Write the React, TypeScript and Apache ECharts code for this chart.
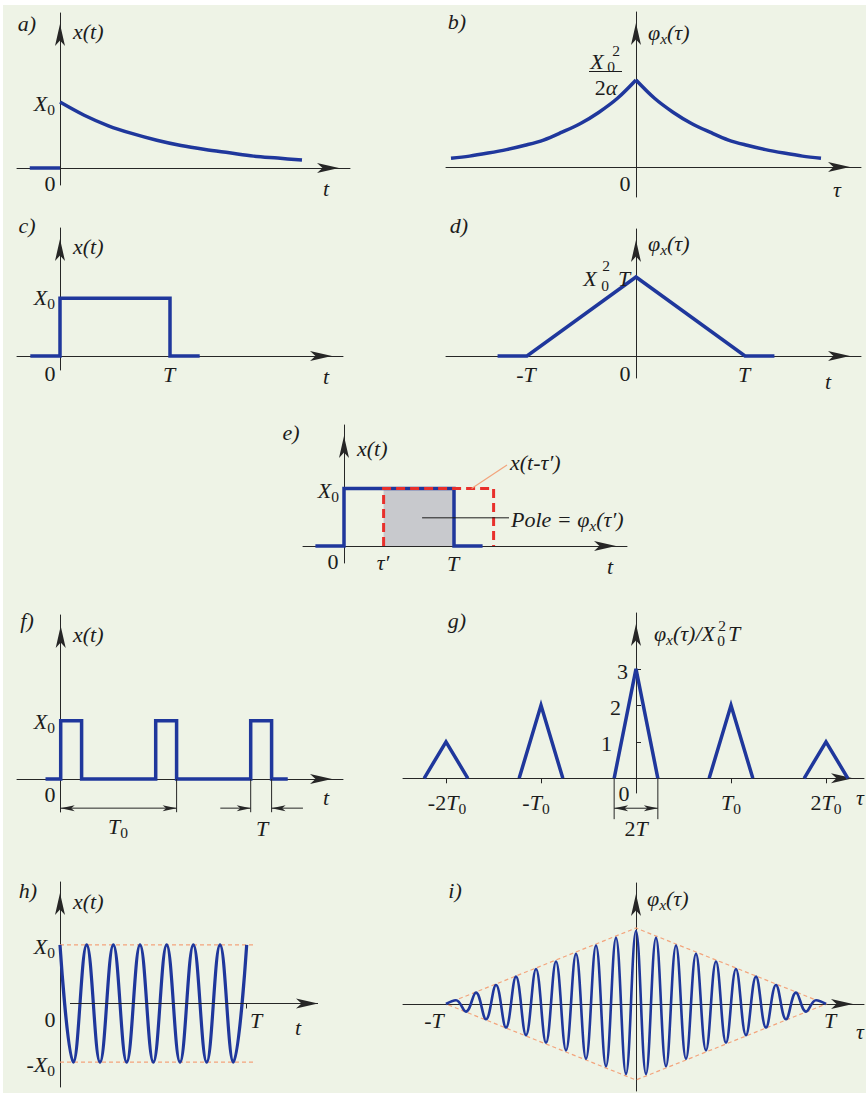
import React, { useEffect, useRef } from "react";
import * as echarts from "echarts";

const W = 866;
const H = 1093;
const BG = "#eef3e6";
const INK = "#1c1c1c";
const AXIS = "#262626";
const BLUE = "#1f379c";
const RED = "#e8302c";
const PEACH = "#f3a47c";
const GRAY = "#c8c9cd";
const SERIF = "Liberation Serif";
const FS = 22;
const FS_SMALL = 15.5;

// a) decaying exponential x(t) = X0·e^(-αt), X0 = 1
const aT = [0, 1, 2, 3, 4, 5, 6, 7, 8, 9, 10];
const aX = [1.0, 0.8, 0.64, 0.52, 0.42, 0.34, 0.28, 0.23, 0.18, 0.15, 0.12];
const aZeroT = [-1.25, 0];
const aZeroX = [0, 0];

// b) autocorrelation of a), one side (even function)
const bTau = [0, 1, 2, 3, 4, 5, 6, 7, 8, 9, 10];
const bPhi = [1.0, 0.79, 0.63, 0.5, 0.4, 0.31, 0.25, 0.2, 0.16, 0.125, 0.1];

// c) single rectangular pulse of width T = 1
const cT = [-0.27, 0, 0, 1, 1, 1.27];
const cX = [0, 0, 1, 1, 0, 0];

// d) its triangular autocorrelation
const dTau = [-1.27, -1, 0, 1, 1.27];
const dPhi = [0, 0, 1, 0, 0];

// e) pulse and its copy shifted by τ'
const eT = [-0.26, 0, 0, 1, 1, 1.26];
const eX = [0, 0, 1, 1, 0, 0];
const eShiftT = [0.36, 0.36, 1.36, 1.36];
const eShiftX = [0, 1, 1, 0];
const eOverlapT = [0.36, 1];
const eOverlapX = [1, 1];
const eShiftLeader = [1.16, 1];
const eAreaLeader = [0.71, 0.49];

// f) periodic pulse train, period T0 = 1, pulse width 0.22
const fT = [-0.16, 0, 0, 0.22, 0.22, 1, 1, 1.22, 1.22, 2, 2, 2.22, 2.22, 2.39];
const fX = [0, 0, 1, 1, 0, 0, 1, 1, 0, 0, 1, 1, 0, 0];
const fDimY = -0.5;
const fExtBottom = -0.57;
const fExtT = [1.22, 2, 2.22];
const fSpanT0 = [0, 1.22];
const fSpanT = [[1.68, 2], [2.55, 2.22]];

// g) autocorrelation of the pulse train (in units of X0²T)
const gCentres = [-2, -1, 0, 1, 2];
const gHeights = [1, 2, 3, 2, 1];
const gHalfBase = 0.23;
const gYTicks = [1, 2, 3];
const gXTicks = [-2, -1, 1, 2];
const gDimY = -0.82;
const gExtBottom = -1.12;

// h) cosine over 7 periods (peaks and troughs)
const hT = [0, 0.5, 1, 1.5, 2, 2.5, 3, 3.5, 4, 4.5, 5, 5.5, 6, 6.5, 7];
const hX = [1, -1, 1, -1, 1, -1, 1, -1, 1, -1, 1, -1, 1, -1, 1];
const hEndT = 7;
const hGuideT = [0, 7.3];
const hAxisFrom = 0.375;

// i) autocorrelation of the cosine burst, right half (even function), τ in periods
const iTau = [0, 0.5, 1, 1.5, 2, 2.5, 3, 3.5, 4, 4.5, 5, 5.5, 6, 6.5, 7, 7.5, 8, 8.5, 9, 9.5];
const iPhi = [0.96, -0.92, 0.87, -0.82, 0.77, -0.72, 0.66, -0.61, 0.56, -0.51, 0.46, -0.41, 0.36, -0.31, 0.25, -0.2, 0.15, -0.1, 0.05, 0];
const iEnvTau = [-9.5, 0, 9.5, 0, -9.5];
const iEnvPhi = [0, 1, 0, -1, 0];

// ---- layout: pixel frame of each panel (axis extents, origin, px per unit)
type Frame = { left: number; right: number; top: number; bottom: number; ox: number; oy: number; sx: number; sy: number };
const FA: Frame = { left: 17, right: 350, top: 13, bottom: 185, ox: 60, oy: 168, sx: 24.2, sy: 66 };
const FB: Frame = { left: 446, right: 861, top: 12, bottom: 197, ox: 636, oy: 167, sx: 18.5, sy: 87 };
const FC: Frame = { left: 17, right: 343, top: 228, bottom: 370, ox: 60, oy: 356, sx: 110, sy: 57.7 };
const FD: Frame = { left: 446, right: 861, top: 229, bottom: 378, ox: 636, oy: 356, sx: 109, sy: 79 };
const FE: Frame = { left: 303, right: 627, top: 425, bottom: 563, ox: 344, oy: 546, sx: 110, sy: 57.5 };
const FF: Frame = { left: 17, right: 343, top: 615, bottom: 812, ox: 60.7, oy: 779, sx: 95, sy: 58.3 };
const FG: Frame = { left: 403, right: 864, top: 613, bottom: 793, ox: 636, oy: 778.3, sx: 95, sy: 36.5 };
const FH: Frame = { left: 60, right: 318, top: 882, bottom: 1087, ox: 60, oy: 1003.5, sx: 26.67, sy: 58.7 };
const FI: Frame = { left: 403, right: 864, top: 883, bottom: 1091, ox: 636, oy: 1004, sx: 20, sy: 76 };
const FRAMES = [FA, FB, FC, FD, FE, FF, FG, FH, FI];

const pairs = (xs: number[], ys: number[]) => xs.map((x, k) => [x, ys[k]]);
const mirrorLeft = (xs: number[], ys: number[]) => xs.map((x, k) => [-x, ys[k]]).reverse();

const ARROW = { symbol: ["none", "arrow"], symbolSize: [7.5, 22], symbolOffset: [0, -11] };

function gridOf(f: Frame) {
  return { left: f.left, top: f.top, width: f.right - f.left, height: f.bottom - f.top, containLabel: false, outerBoundsMode: "none" };
}

function xAxisOf(f: Frame, i: number, ticks?: number[], hideLine = false) {
  return {
    type: "value", gridIndex: i,
    min: (f.left - f.ox) / f.sx, max: (f.right - f.ox) / f.sx,
    axisLine: { show: !hideLine, onZero: true, lineStyle: { color: AXIS, width: 1 }, ...ARROW },
    axisTick: ticks ? { show: true, customValues: ticks, length: 5, lineStyle: { color: AXIS, width: 1 } } : { show: false },
    axisLabel: { show: false }, splitLine: { show: false },
  };
}

function yAxisOf(f: Frame, i: number, ticks?: number[]) {
  return {
    type: "value", gridIndex: i,
    min: (f.oy - f.bottom) / f.sy, max: (f.oy - f.top) / f.sy,
    axisLine: { show: true, onZero: true, lineStyle: { color: AXIS, width: 1 }, ...ARROW },
    axisTick: ticks ? { show: true, inside: true, customValues: ticks, length: 5, lineStyle: { color: AXIS, width: 1 } } : { show: false },
    axisLabel: { show: false }, splitLine: { show: false },
  };
}

function line(i: number, data: number[][], style: any = {}, extra: any = {}) {
  return {
    type: "line", xAxisIndex: i, yAxisIndex: i, data,
    symbol: "none", showSymbol: false, clip: false, silent: true, animation: false,
    lineStyle: { color: BLUE, width: 3.5, join: "miter", cap: "butt", ...style },
    ...extra,
  };
}

// ---- text
const tok = (size: number, italic: boolean, pad?: number[]) => ({
  fontFamily: SERIF, fontSize: size, fontStyle: italic ? "italic" : "normal", fill: INK, ...(pad ? { padding: pad } : {}),
});
const RICH = {
  u: tok(FS, false),
  sub: tok(FS_SMALL, true, [13, 0, 0, 0]),
  subu: tok(FS_SMALL, false, [13, 0, 0, 0]),
};

function label(x: number, y: number, text: string, align: string = "center", size = FS, italic = true) {
  return {
    type: "text", x, y, silent: true, z: 20,
    style: {
      text, align, verticalAlign: "middle", fontFamily: SERIF, fontSize: size,
      fontStyle: italic ? "italic" : "normal", fill: INK, rich: RICH,
      lineHeight: size < 18 ? 11 : size,
    },
  };
}
const up = (x: number, y: number, text: string, align = "center", size = FS) => label(x, y, text, align, size, false);
const seg = (p: number[], q: number[], color = AXIS, w = 1) => ({
  type: "line", silent: true, z: 20, shape: { x1: p[0], y1: p[1], x2: q[0], y2: q[1] }, style: { stroke: color, lineWidth: w },
});
function head(tip: number[], from: number[], len: number, half: number) {
  const dx = tip[0] - from[0];
  const dy = tip[1] - from[1];
  const d = Math.hypot(dx, dy) || 1;
  const ux = dx / d, uy = dy / d, nx = -uy, ny = ux;
  const bx = tip[0] - ux * len, by = tip[1] - uy * len;
  return {
    type: "polygon", silent: true, z: 21,
    shape: { points: [[tip[0], tip[1]], [bx + nx * half, by + ny * half], [tip[0] - ux * len * 0.75, tip[1] - uy * len * 0.75], [bx - nx * half, by - ny * half]] },
    style: { fill: AXIS },
  };
}

const PHI = "φ{sub|x}(τ)";

function buildOption() {
  const series: any[] = [];
  const expo = { smooth: 0.33 };

  series.push(line(0, pairs(aT, aX), {}, expo));
  series.push(line(0, pairs(aZeroT, aZeroX)));
  series.push(line(1, mirrorLeft(bTau, bPhi), {}, expo));
  series.push(line(1, pairs(bTau, bPhi), {}, expo));
  series.push(line(2, pairs(cT, cX)));
  series.push(line(3, pairs(dTau, dPhi)));
  series.push(line(4, pairs(eOverlapT, eOverlapX), { width: 0, color: GRAY }, { areaStyle: { color: GRAY, opacity: 1 }, z: 1 }));
  series.push(line(4, pairs(eT, eX)));
  series.push(line(4, pairs(eShiftT, eShiftX), { color: RED, width: 3, type: [9, 5] }, { z: 3 }));
  series.push(line(5, pairs(fT, fX)));
  gCentres.forEach((c, k) => {
    series.push(line(6, [[c - gHalfBase, 0], [c, gHeights[k]], [c + gHalfBase, 0]]));
  });
  series.push(line(7, pairs(hGuideT, [1, 1]), { color: PEACH, width: 1.2, type: [4, 3] }));
  series.push(line(7, pairs(hGuideT, [-1, -1]), { color: PEACH, width: 1.2, type: [4, 3] }));
  series.push(line(7, pairs(hT, hX), { width: 3.2, join: "round" }, { smooth: 0.4 }));
  series.push(line(8, pairs(iEnvTau, iEnvPhi), { color: PEACH, width: 1.2, type: [4, 3] }));
  series.push(line(8, [...mirrorLeft(iTau, iPhi).slice(0, -1), ...pairs(iTau, iPhi)], { width: 2.6, join: "round" }, { smooth: 0.4 }));

  const xAxes = FRAMES.map((f, i) => xAxisOf(f, i, i === 6 ? gXTicks : i === 7 ? [hEndT] : undefined, i === 7));
  const yAxes = FRAMES.map((f, i) => yAxisOf(f, i, i === 6 ? gYTicks : undefined));

  return {
    animation: false,
    backgroundColor: "#ffffff",
    grid: FRAMES.map(gridOf),
    xAxis: xAxes,
    yAxis: yAxes,
    series,
  };
}

function buildGraphic(toPx: (i: number, x: number, y: number) => number[]) {
  const g: any[] = [
    { type: "rect", silent: true, z: -100, shape: { x: 3, y: 5, width: W - 3, height: H - 5 }, style: { fill: BG } },
  ];

  // f) dimension lines
  const fp = (x: number, y: number) => toPx(5, x, y);
  fExtT.forEach((t) => g.push(seg(fp(t, 0), fp(t, fExtBottom))));
  const t0a = fp(fSpanT0[0], fDimY), t0b = fp(fSpanT0[1], fDimY);
  g.push(seg(t0a, t0b), head(t0a, t0b, 14, 3), head(t0b, t0a, 14, 3));
  fSpanT.forEach(([from, tip]) => {
    const a = fp(from, fDimY), b = fp(tip, fDimY);
    g.push(seg(a, b), head(b, a, 14, 3));
  });

  // g) 2T dimension
  const gp = (x: number, y: number) => toPx(6, x, y);
  [-gHalfBase, gHalfBase].forEach((t) => g.push(seg(gp(t, 0), gp(t, gExtBottom))));
  const ga = gp(-gHalfBase, gDimY), gb = gp(gHalfBase, gDimY);
  g.push(seg(ga, gb), head(ga, gb, 14, 3), head(gb, ga, 14, 3));

  // h) time axis starting just right of the origin
  const ha = toPx(7, hAxisFrom, 0);
  const hb = [FH.right, ha[1]];
  g.push(seg(ha, hb), head(hb, ha, 22, 5));

  // e) leader lines
  const sl = toPx(4, eShiftLeader[0], eShiftLeader[1]);
  const al = toPx(4, eAreaLeader[0], eAreaLeader[1]);
  g.push(seg(sl, [507, 465], PEACH, 1.2));
  g.push(seg(al, [509, al[1]], INK, 1));

  const S = FS_SMALL;
  g.push(
    // a
    label(27, 23, "a)"), label(73, 31, "x(t)", "left"), label(55, 103, "X{subu|0}", "right"),
    up(50, 183, "0"), label(326, 188, "t"),
    // b
    label(597, 61, "X"), up(611, 66.5, "0", "center", S), up(616, 50, "2", "center", S),
    seg([589, 71.5], [622, 71.5], INK, 1.2), label(606, 87, "{u|2}α"),
    label(457, 21, "b)"), label(648, 32, PHI, "left"),
    up(625, 183, "0"), label(837, 189, "τ"),
    // c
    label(27, 225, "c)"), label(73, 246, "x(t)", "left"), label(55, 297, "X{subu|0}", "right"),
    up(50, 373, "0"), label(169, 374, "T"), label(326, 376, "t"),
    // d
    label(459, 225, "d)"), label(648, 243, PHI, "left"),
    label(590, 278, "X"), up(605, 285, "0", "center", S), up(606, 265, "2", "center", S), label(624, 278, "T"),
    label(526, 374, "-T"), up(625, 373, "0"), label(744, 374, "T"), label(828, 381, "t"),
    // e
    label(291, 432, "e)"), label(357, 448, "x(t)", "left"), label(339, 490, "X{subu|0}", "right"),
    up(333, 561, "0"), label(383, 562, "τ′"), label(453, 563, "T"), label(610, 566, "t"),
    label(510, 462, "x(t-τ′)", "left"), label(511, 519, "Pole = φ{sub|x}(τ′)", "left"),
    // f
    label(27, 620, "f)"), label(73, 634, "x(t)", "left"), label(55, 721, "X{subu|0}", "right"),
    up(50, 794, "0"), label(326, 797, "t"), label(118, 826, "T{subu|0}"), label(262, 828, "T"),
    // g
    label(457, 620, "g)"), label(715, 633, PHI + "/X", "right"),
    up(721, 640, "0", "center", S), up(722, 625, "2", "center", S), label(728, 633, "T", "left"),
    up(628, 671, "3", "right"), up(621, 707, "2", "right"), up(612, 743, "1", "right"),
    label(447, 802, "-{u|2}T{subu|0}"), label(536, 802, "-T{subu|0}"), up(624, 793, "0"),
    label(731, 802, "T{subu|0}"), label(826, 802, "{u|2}T{subu|0}"), label(860, 797, "τ"),
    label(636, 828, "{u|2}T"),
    // h
    label(28, 890, "h)"), label(73, 901, "x(t)", "left"), label(55, 946, "X{subu|0}", "right"),
    label(55, 1064, "-X{subu|0}", "right"), up(50, 1019, "0"), label(256, 1020, "T"), label(298, 1027, "t"),
    // i
    label(455, 890, "i)"), label(647, 898, PHI, "left"),
    label(434, 1020, "-T"), label(830, 1020, "T"), label(860, 1031, "τ"),
  );
  return g;
}

export default function App() {
  const ref = useRef<HTMLDivElement>(null);
  useEffect(() => {
    const el = ref.current;
    if (!el) return;
    const chart = echarts.init(el, null, { renderer: "svg" });
    chart.setOption(buildOption() as any);
    const toPx = (i: number, x: number, y: number) => chart.convertToPixel({ gridIndex: i } as any, [x, y]) as number[];
    chart.setOption({ graphic: { elements: buildGraphic(toPx) } } as any);
    return () => chart.dispose();
  }, []);
  return <div ref={ref} style={{ position: "absolute", left: 0, top: 0, width: W, height: H }} />;
}
